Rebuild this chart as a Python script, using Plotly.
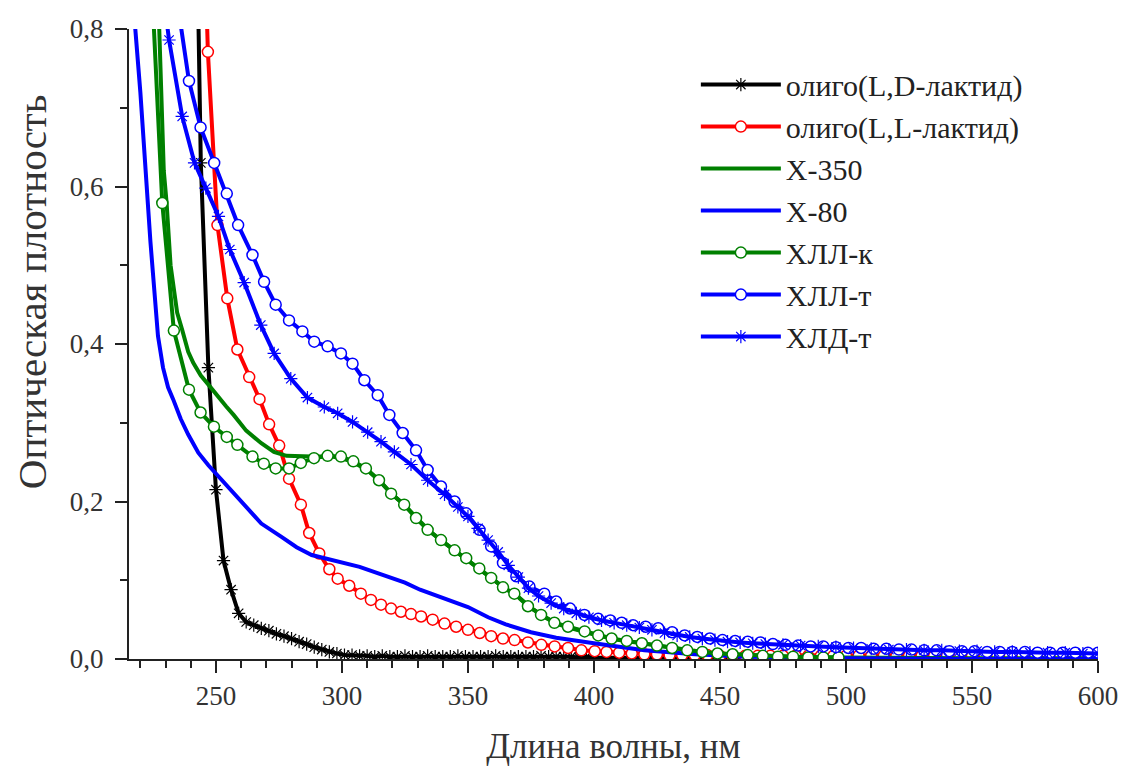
import plotly.graph_objects as go

# ---------------- data ----------------
# олиго(L,D-лактид) – black, stars
ld_x = [241, 244, 247, 250, 253, 256, 259, 262, 265, 268, 271, 274, 277, 280, 283, 286, 289, 292, 295, 298,
        301, 304, 307, 310, 313, 316, 319, 322, 325, 328, 331, 334, 337, 340, 343, 346, 349, 352, 355, 358,
        361, 364, 367, 370, 373, 376, 379, 382, 385, 388, 391, 394, 397, 400, 405, 410, 415, 420, 425, 430,
        435, 440, 445, 450, 460, 470, 480, 490, 500, 520, 540, 560, 580, 600]
ld_y = [1.20, 0.63, 0.37, 0.215, 0.125, 0.088, 0.058, 0.047, 0.043, 0.039, 0.036, 0.032, 0.029, 0.026, 0.022,
        0.019, 0.015, 0.012, 0.009, 0.007, 0.005, 0.005, 0.004, 0.004, 0.003, 0.004, 0.003, 0.003, 0.004, 0.003,
        0.003, 0.004, 0.003, 0.003, 0.003, 0.004, 0.003, 0.003, 0.003, 0.003, 0.004, 0.003, 0.003, 0.003, 0.003,
        0.003, 0.004, 0.003, 0.003, 0.003, 0.003, 0.002, 0.003, 0.002, 0.002, 0.002, 0.002, 0.002, 0.002, 0.002,
        0.001, 0.001, 0.001, 0.001, 0.001, 0.001, 0.001, 0.001, 0.001, 0.001, 0.001, 0.001, 0.001, 0.001]

# олиго(L,L-лактид) – red, circles
ll_x = [245.8, 246.8, 250.6, 254.5, 258.5, 263.2, 267.3, 271.1, 275.1, 279.0, 283.7, 287.0, 291.0, 295.0,
        298.3, 302.9, 307.5, 311.5, 315.5, 319.5, 323.4, 327.4, 331.4, 336.0, 340.7, 345.3, 350.0, 354.7,
        359.2, 363.9, 368.5, 373.8, 379.1, 384.4, 389.7, 395.0, 400.3, 405, 410, 415, 420, 425, 430, 435,
        440, 445, 450, 455, 460, 465, 470, 475, 480, 485, 490, 495, 500, 505, 510, 515, 520, 525, 530, 535,
        540, 545, 550, 555, 560, 565, 570, 575, 580, 585, 590, 595, 600]
ll_y = [0.88, 0.771, 0.551, 0.458, 0.393, 0.358, 0.330, 0.298, 0.271, 0.229, 0.196, 0.160, 0.134, 0.114,
        0.102, 0.093, 0.083, 0.075, 0.069, 0.064, 0.060, 0.057, 0.054, 0.050, 0.045, 0.041, 0.037, 0.033,
        0.029, 0.026, 0.024, 0.021, 0.018, 0.016, 0.014, 0.011, 0.010, 0.009, 0.008, 0.007, 0.006, 0.006,
        0.005, 0.005, 0.005, 0.005, 0.004, 0.004, 0.004, 0.004, 0.004, 0.004, 0.004, 0.004, 0.004, 0.004,
        0.004, 0.004, 0.004, 0.004, 0.004, 0.004, 0.004, 0.004, 0.004, 0.004, 0.004, 0.004, 0.004, 0.004,
        0.004, 0.004, 0.004, 0.004, 0.004, 0.004, 0.004]

# Х-350 – green solid
x350_x = [225.5, 227.5, 229.3, 230.4, 232, 234.6, 236.6, 239, 241, 244, 246.6, 250, 254, 257, 262, 268, 273,
          278, 283, 288, 292, 296, 300, 305, 310, 315, 320, 325, 330, 335, 340, 345, 350, 355, 360, 365, 370,
          375, 380, 385, 390, 400, 410, 420, 430, 440, 450, 460, 480, 500, 550, 600]
x350_y = [0.86, 0.80, 0.62, 0.58, 0.50, 0.44, 0.418, 0.39, 0.376, 0.36, 0.35, 0.336, 0.321, 0.31, 0.29, 0.274,
          0.263, 0.258, 0.257, 0.257, 0.257, 0.257, 0.255, 0.249, 0.240, 0.226, 0.209, 0.195, 0.178, 0.162,
          0.149, 0.137, 0.126, 0.113, 0.101, 0.089, 0.079, 0.065, 0.054, 0.045, 0.040, 0.031, 0.024, 0.019,
          0.014, 0.010, 0.007, 0.005, 0.003, 0.002, 0.001, 0.001]

# Х-80 – blue solid
x80_x = [216, 218, 220, 222, 224, 225, 227, 229, 231, 233, 236, 239, 243, 247, 251, 256, 262, 268, 276, 282,
         288, 295, 300, 307, 315, 325, 331, 340, 350, 358, 365, 375, 385, 400, 420, 440, 460, 480, 500, 550, 600]
x80_y = [0.90, 0.80, 0.72, 0.62, 0.53, 0.49, 0.41, 0.37, 0.345, 0.33, 0.305, 0.285, 0.262, 0.246, 0.232, 0.215,
         0.193, 0.172, 0.155, 0.142, 0.132, 0.126, 0.123, 0.117, 0.108, 0.097, 0.088, 0.078, 0.066, 0.053,
         0.044, 0.034, 0.027, 0.020, 0.011, 0.006, 0.003, 0.002, 0.001, 0.0, 0.0]

# ХЛЛ-к – green circles
hllk_x = [224.5, 228.7, 233.3, 239.3, 243.9, 249.2, 254.3, 258.5, 264.5, 269.0, 273.7, 279.0, 283.7, 288.9,
          294.3, 299.6, 304.5, 309.5, 314.7, 319.5, 324.7, 329.4, 334.0, 339.3, 344.7, 349.3, 354.5, 359.2,
          363.9, 368.4, 373.8, 379.0, 384.3, 389.7, 396.3, 401.7, 407, 413, 419, 425, 431, 437, 443, 449,
          455, 461, 467, 473, 479, 485, 491, 497]
hllk_y = [0.86, 0.579, 0.417, 0.342, 0.313, 0.295, 0.282, 0.272, 0.257, 0.248, 0.242, 0.242, 0.249, 0.255,
          0.258, 0.257, 0.251, 0.242, 0.227, 0.210, 0.196, 0.179, 0.164, 0.151, 0.138, 0.128, 0.115, 0.103,
          0.091, 0.083, 0.067, 0.056, 0.046, 0.041, 0.035, 0.030, 0.026, 0.023, 0.020, 0.017, 0.014, 0.011,
          0.009, 0.007, 0.006, 0.005, 0.004, 0.003, 0.003, 0.002, 0.002, 0.002]

# ХЛЛ-т – blue circles
hllt_x = [233.5, 239.3, 243.9, 249.3, 254.3, 258.8, 264.5, 269.1, 273.7, 279.0, 284.3, 289.0, 294.3, 299.6,
          304.2, 308.9, 314.2, 318.8, 324.1, 329.4, 334.0, 339.3, 344.7, 349.3, 354.6, 359.2, 363.9, 369.2,
          374.4, 380.3, 385, 390.5, 396.2, 401.7, 406.5, 411, 415.5, 420.5, 425.5, 431, 436, 441, 446, 451,
          456, 461, 466, 471, 476, 481, 486, 491, 496, 501, 506, 511, 516, 521, 526, 531, 536, 541, 546, 551,
          556, 561, 566, 571, 576, 581, 586, 591, 596, 600]
hllt_y = [0.86, 0.734, 0.675, 0.630, 0.591, 0.551, 0.513, 0.479, 0.450, 0.430, 0.416, 0.403, 0.397, 0.388,
          0.375, 0.354, 0.335, 0.310, 0.287, 0.265, 0.240, 0.219, 0.200, 0.185, 0.164, 0.143, 0.122, 0.105,
          0.092, 0.083, 0.073, 0.064, 0.056, 0.051, 0.049, 0.046, 0.043, 0.041, 0.039, 0.034, 0.030, 0.028,
          0.026, 0.024, 0.023, 0.022, 0.021, 0.019, 0.018, 0.017, 0.016, 0.016, 0.015, 0.014, 0.014, 0.013,
          0.013, 0.012, 0.012, 0.011, 0.011, 0.010, 0.010, 0.010, 0.009, 0.009, 0.009, 0.009, 0.008, 0.008,
          0.008, 0.008, 0.008, 0.008]

# ХЛД-т – blue stars
hldt_x = [228, 231.4, 236.6, 241.5, 246, 251, 255.5, 261.2, 267.8, 273.1, 279.7, 286.3, 293, 298.3, 304.2,
          310.2, 315.5, 320.8, 327.4, 334, 340.7, 346, 350, 354, 358, 362, 366, 370, 374, 378, 383, 388, 393,
          398, 403, 408, 413, 418, 423, 428, 433, 438, 443, 448, 453, 458, 463, 468, 475, 482, 489, 496, 503,
          510, 517, 524, 531, 538, 545, 552, 559, 566, 573, 580, 587, 594, 600]
hldt_y = [0.87, 0.786, 0.689, 0.630, 0.598, 0.562, 0.520, 0.478, 0.424, 0.388, 0.356, 0.332, 0.320, 0.312,
          0.301, 0.288, 0.276, 0.263, 0.247, 0.227, 0.209, 0.193, 0.181, 0.166, 0.151, 0.136, 0.119, 0.104,
          0.090, 0.080, 0.071, 0.064, 0.058, 0.053, 0.049, 0.046, 0.043, 0.040, 0.037, 0.033, 0.030, 0.028,
          0.026, 0.024, 0.022, 0.021, 0.020, 0.019, 0.018, 0.017, 0.016, 0.015, 0.014, 0.013, 0.012, 0.012,
          0.011, 0.011, 0.010, 0.010, 0.009, 0.009, 0.008, 0.008, 0.008, 0.007, 0.007]

x_ticks = [250, 300, 350, 400, 450, 500, 550, 600]
y_ticks = [0.0, 0.2, 0.4, 0.6, 0.8]
x_title = "Длина волны, нм"
y_title = "Оптическая плотность"

# ---------------- styles ----------------
BLACK, RED, GREEN, BLUE = "#000000", "#ff0000", "#008000", "#0000ff"
FONT = "Liberation Serif"

series = [
    ("олиго(L,D-лактид)", ld_x, ld_y, BLACK, "asterisk-open"),
    ("олиго(L,L-лактид)", ll_x, ll_y, RED, "circle"),
    ("Х-350", x350_x, x350_y, GREEN, None),
    ("Х-80", x80_x, x80_y, BLUE, None),
    ("ХЛЛ-к", hllk_x, hllk_y, GREEN, "circle"),
    ("ХЛЛ-т", hllt_x, hllt_y, BLUE, "circle"),
    ("ХЛД-т", hldt_x, hldt_y, BLUE, "asterisk-open"),
]

fig = go.Figure()
for i, (name, xs, ys, col, sym) in enumerate(series):
    if sym is None:
        fig.add_trace(go.Scatter(x=xs, y=ys, name=name, mode="lines",
                                 line=dict(color=col, width=4), legendgroup=f"g{i}"))
    elif sym == "circle":
        fig.add_trace(go.Scatter(x=xs, y=ys, name=name, mode="lines+markers",
                                 line=dict(color=col, width=4), legendgroup=f"g{i}",
                                 marker=dict(symbol="circle", size=11, color="white",
                                             line=dict(color=col, width=1.5))))
    else:
        fig.add_trace(go.Scatter(x=xs, y=ys, name=name, mode="lines+markers",
                                 line=dict(color=col, width=4), legendgroup=f"g{i}",
                                 marker=dict(symbol=sym, size=11, color=col,
                                             line=dict(color=col, width=1.2))))

fig.update_layout(
    width=1122, height=766,
    margin=dict(l=129, r=24, t=29, b=107, autoexpand=False),
    paper_bgcolor="white", plot_bgcolor="white",
    separators=", ",
    font=dict(family=FONT, size=26, color="#333333"),
    showlegend=True,
    legend=dict(x=0.585, y=0.953, xanchor="left", yanchor="top",
                font=dict(family=FONT, size=30, color="#222222"),
                bgcolor="rgba(0,0,0,0)", itemwidth=80,
                traceorder="grouped", tracegroupgap=0),
    xaxis=dict(range=[215.5, 600], tickvals=x_ticks, ticks="outside", ticklen=12, tickwidth=2,
               tickcolor="#222", showline=True, linecolor="#222", linewidth=2, showgrid=False,
               zeroline=False, automargin=False, tickfont=dict(family=FONT, size=27, color="#333"),
               minor=dict(ticks="outside", ticklen=7, tickwidth=2, tickcolor="#222", dtick=10, tick0=200),
               title=dict(text=x_title, font=dict(family=FONT, size=35, color="#333"), standoff=28)),
    yaxis=dict(range=[0, 0.8], tickvals=y_ticks, tickformat=".1f", ticks="outside", ticklen=12, tickwidth=2,
               tickcolor="#222", showline=True, linecolor="#222", linewidth=2, showgrid=False,
               zeroline=False, automargin=False, tickfont=dict(family=FONT, size=27, color="#333"),
               ticklabelstandoff=6,
               minor=dict(ticks="outside", ticklen=7, tickwidth=2, tickcolor="#222", dtick=0.1, tick0=0)),
    annotations=[dict(text=y_title, textangle=-90, xref="paper", yref="paper",
                      x=-0.100, y=0.5825, xanchor="center", yanchor="middle", showarrow=False,
                      font=dict(family=FONT, size=41, color="#333"))],
)

fig.write_html("out.html")
